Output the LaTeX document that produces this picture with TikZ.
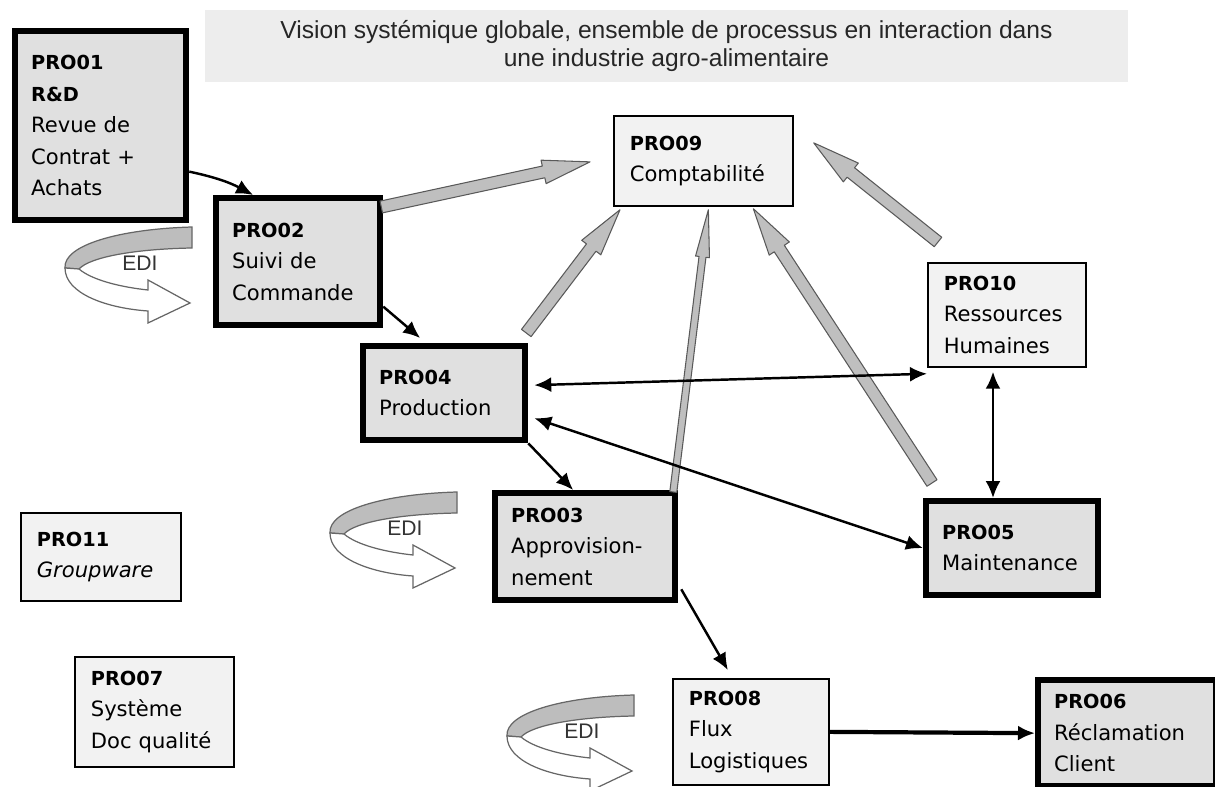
\documentclass[tikz,border=0pt]{standalone}
\usepackage{fontspec}
\setmainfont{DejaVu Sans}
\newfontfamily\titlefont{Liberation Sans}
\usetikzlibrary{arrows.meta}
\usetikzlibrary{calc}
\definecolor{heavyfill}{gray}{0.88}
\definecolor{lightfill}{gray}{0.95}
\definecolor{titlefill}{gray}{0.93}
\definecolor{ribbon}{gray}{0.74}
\newcommand{\procode}[1]{{\fontsize{11}{18}\selectfont\bfseries #1}}
% fleche grise epaisse de #2 vers #3, #1 = demi-largeur du corps
\newcommand{\grayarrow}[3][0.12cm]{%
    \coordinate (ga) at ($(#3)!0.95cm!(#2)$);
    \draw[grayarr] ($(#2)!#1!90:(#3)$) -- ($(ga)!#1!90:(#3)$) -- ($(ga)!2*#1!90:(#3)$) -- (#3)
        -- ($(ga)!2*#1!-90:(#3)$) -- ($(ga)!#1!-90:(#3)$) -- ($(#2)!#1!-90:(#3)$) -- cycle;}
\tikzset{%
    procbox/.style={rectangle,draw,anchor=north west,align=left,inner xsep=0.32cm,font=\fontsize{12}{18}\selectfont},
    heavybox/.style={procbox,line width=3.6pt,fill=heavyfill},
    lightbox/.style={procbox,line width=1pt,fill=lightfill},
    titlebox/.style={fill=titlefill,minimum width=18.46cm,minimum height=1.44cm,align=center,font=\titlefont\fontsize{14}{16}\selectfont,text=black!85},
    flow/.style={->,>={Latex[length=3.4mm,width=3mm]},line width=1.4pt},
    flowboth/.style={<->,>={Latex[length=3.4mm,width=3mm]},line width=1.4pt},
    grayarr/.style={draw=black!65,fill=black!25,line width=0.6pt,line join=round},
    edilabel/.style={font=\titlefont\fontsize{12}{14}\selectfont,text=black!80},
    ediloop/.pic={
        \filldraw[fill=ribbon,draw=black!60,line width=0.7pt] (127,-38) -- (127,-17) .. controls (70,-16) and (25,-8) .. (14,4) -- (0,3) .. controls (-2,-20) and (55,-36) .. (127,-38) -- cycle;
        \filldraw[fill=white,draw=black!60,line width=0.7pt] (14,4) .. controls (27,15) and (55,22) .. (83,25) -- (83,15) -- (125,38) -- (83,58) -- (83,46) .. controls (40,43) and (0,28) .. (0,3) -- cycle;
        \node[edilabel] at (75,-2) {EDI};
    },
}

\begin{document}
\begin{tikzpicture}[x=0.02cm,y=-0.02cm]
    \useasboundingbox (0,0) rectangle (1215,787);

    %titre
    \node[titlebox] (title) at (666.5,46) {Vision systémique globale, ensemble de processus en interaction dans\\ une industrie agro-alimentaire};

    %processus
    \node[heavybox,text width=2.78cm,minimum height=3.78cm] (pro01) at (12,28) {\procode{PRO01}\\ \procode{R\&D}\\ Revue de\\ Contrat +\\ Achats};
    \node[heavybox,text width=2.64cm,minimum height=2.54cm] (pro02) at (213,195) {\procode{PRO02}\\ Suivi de\\ Commande};
    \node[lightbox,text width=2.94cm,minimum height=1.80cm] (pro09) at (613,115) {\procode{PRO09}\\ Comptabilité};
    \node[lightbox,text width=2.52cm,minimum height=2.08cm] (pro10) at (927,262) {\procode{PRO10}\\ Ressources\\ Humaines};
    \node[heavybox,text width=2.60cm,minimum height=1.88cm] (pro04) at (360,343) {\procode{PRO04}\\ Production};
    \node[heavybox,text width=2.96cm,minimum height=2.14cm] (pro03) at (492,490) {\procode{PRO03}\\ Approvision-\\ nement};
    \node[heavybox,text width=2.80cm,minimum height=1.88cm] (pro05) at (923,498) {\procode{PRO05}\\ Maintenance};
    \node[lightbox,text width=2.56cm,minimum height=1.76cm] (pro11) at (20,512) {\procode{PRO11}\\ \textit{Groupware}};
    \node[lightbox,text width=2.54cm,minimum height=2.20cm] (pro07) at (74,656) {\procode{PRO07}\\ Système\\ Doc qualité};
    \node[lightbox,text width=2.48cm,minimum height=2.12cm] (pro08) at (672,678) {\procode{PRO08}\\ Flux\\ Logistiques};
    \node[heavybox,text width=2.92cm,minimum height=2.12cm] (pro06) at (1035,677) {\procode{PRO06}\\ Réclamation\\ Client};

    %vers la comptabilite
    \coordinate (c02) at ($(pro02.north east)+(-2,12)$);
    \coordinate (c09w) at ($(pro09.west)+(-23,1)$);
    \coordinate (c04) at ($(pro04.north east)+(-2,-10)$);
    \coordinate (c09sw) at ($(pro09.south west)+(7,3)$);
    \coordinate (c03) at ($(pro03.north east)+(-5,2)$);
    \coordinate (c09s) at ($(pro09.south)+(5,3)$);
    \coordinate (c05) at ($(pro05.north west)+(9,-15)$);
    \coordinate (c09se) at ($(pro09.south)+(50,2)$);
    \coordinate (c10) at ($(pro10.north west)+(11,-20)$);
    \coordinate (c09e) at ($(pro09.east)+(20,-18)$);
    \grayarrow{c02}{c09w}
    \grayarrow{c04}{c09sw}
    \grayarrow[0.07cm]{c03}{c09s}
    \grayarrow{c05}{c09se}
    \grayarrow{c10}{c09e}

    %liens
    \draw[flow] ($(pro01.east)+(0,46)$) to[bend left=8] ($(pro02.north)+(-45,0)$);
    \draw[flow] ($(pro02.east)+(0,45)$) -- ($(pro04.north)+(-24,-5)$);
    \draw[flow] (pro04.south east) -- ($(pro03.north)+(-12,0)$);
    \draw[flowboth] ($(pro04.east)+(6,-8)$) -- ($(pro10.south west)+(0,6)$);
    \draw[flowboth] ($(pro04.east)+(6,25)$) -- (pro05.west);
    \draw[flowboth] ($(pro10.south west)+(66,4)$) -- ($(pro05.north west)+(70,0)$);
    \draw[flow] ($(pro03.south east)+(3,-14)$) -- ($(pro08.north)+(-23,-8)$);
    \draw[flow,line width=2.4pt] (pro08.east) -- (pro06.west);

    %EDI
    \pic at (65,265) {ediloop};
    \pic at (330,530) {ediloop};
    \pic at (507,733) {ediloop};
\end{tikzpicture}
\end{document}
